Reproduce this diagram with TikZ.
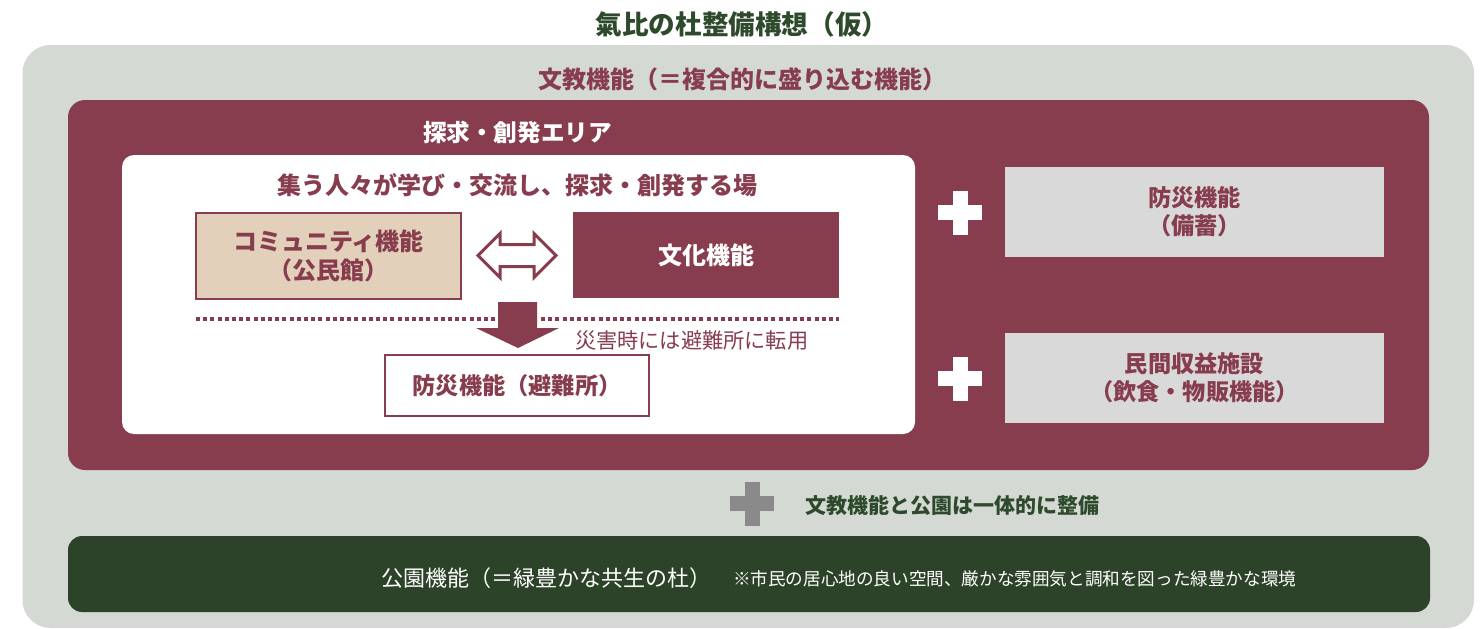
\documentclass[tikz,border=0pt]{standalone}
\usepackage{fontspec}
\setmainfont{Noto Sans CJK JP}
\usetikzlibrary{calc}
\definecolor{maroon}{HTML}{873D4E}
\definecolor{bggray}{HTML}{D4D9D4}
\definecolor{beige}{HTML}{E2D0BB}
\definecolor{lgray}{HTML}{D9D9D9}
\definecolor{dgreen}{HTML}{2C4329}
\definecolor{tgreen}{HTML}{2E4A2C}
\definecolor{plusgray}{HTML}{8A8A8A}
\newcommand\myfs[2]{\fontsize{#1}{#2}\selectfont}
\begin{document}
\begin{tikzpicture}[x=0.5pt,y=-0.5pt,
  every node/.style={inner sep=0pt,outer sep=0pt},
  fbox/.style={minimum height=43pt,align=center,font=\bfseries\myfs{12}{14.5}},
  rbox/.style={fill=lgray,minimum width=189.5pt,minimum height=45pt,align=center,text=maroon,font=\bfseries\myfs{11.6}{14}},
  sepline/.style={maroon,line width=1.8pt,dash pattern=on 2pt off 1.6pt}
]
\useasboundingbox (0,0) rectangle (1484,628);
\fill[white] (0,0) rectangle (1484,628);

% title
\node[text=tgreen,font=\bfseries\myfs{13.3}{15}] (title) at (742,24) {氣比の杜整備構想（仮）};

% outer gray panel
\node[fill=bggray,rounded corners=14pt,minimum width=725.75pt,minimum height=291.5pt] (outer) at (748.25,336.5) {};
\node[text=maroon,font=\bfseries\myfs{12}{13}] (bunkyolbl) at (742,79) {文教機能（＝複合的に盛り込む機能）};

% maroon panel
\node[fill=maroon,rounded corners=8.5pt,minimum width=680.5pt,minimum height=185pt] (bunkyo) at (748.5,285) {};
\node[text=white,font=\bfseries\myfs{11.8}{13}] (arealbl) at (517.5,132) {探求・創発エリア};

% white area
\node[fill=white,rounded corners=6pt,minimum width=396.5pt,minimum height=139.5pt] (area) at (518.5,294.5) {};
\node[text=maroon,font=\bfseries\myfs{12}{14}] (arealbl2) at (517.5,185) {集う人々が学び・交流し、探求・創発する場};

\node[fbox,fill=beige,draw=maroon,line width=0.6pt,minimum width=132.5pt,text=maroon] (comm) at (328.5,256) {コミュニティ機能\\（公民館）};
\node[fbox,fill=maroon,minimum width=133pt,text=white] (bunka) at (706,255) {文化機能};

% double arrow
\coordinate (dac) at ($(comm.east)!0.5!(bunka.west)$);
\draw[maroon,line width=1.5pt,fill=white,line join=miter]
  ($(dac)+(-39,0)$) -- ++(22,-22) -- ++(0,11) -- ++(34,0) -- ++(0,-11) -- ++(22,22)
  -- ++(-22,22) -- ++(0,-11) -- ++(-34,0) -- ++(0,11) -- cycle;

% dotted separator
\coordinate (dl) at (comm.south west |- 0,319);
\coordinate (dr) at (bunka.south east |- 0,319);
\draw[sepline] (dl) -- (495,319);
\draw[sepline] (541,319) -- (dr);

% evacuation box
\node[fill=white,draw=maroon,line width=0.75pt,minimum width=132pt,minimum height=30.5pt,text=maroon,font=\bfseries\myfs{11.6}{13}] (hinan) at (517,385.5) {防災機能（避難所）};

% down arrow
\fill[maroon] ($(hinan.north)+(-19,-53)$) -- ++(39,0) -- ++(0,26) -- ++(22,0)
  -- ($(hinan.north)+(1,-7)$) -- ++(-42,-20) -- ++(22,0) -- cycle;
\node[text=maroon,font=\myfs{10.6}{12},anchor=west] (saigai) at (575,340) {災害時には避難所に転用};

% right boxes
\node[rbox] (bousai) at (1194.5,212) {防災機能\\（備蓄）};
\node[rbox] (minkan) at (1194.5,378) {民間収益施設\\（飲食・物販機能）};

% plus signs
\coordinate (p1) at (960,212.5);
\coordinate (p2) at (960,378.5);
\coordinate (p3) at (752,503.5);
\foreach \p/\c in {p1/white,p2/white,p3/plusgray}{
  \fill[\c] ($(\p)+(-22,-7.5)$) rectangle ++(44,15);
  \fill[\c] ($(\p)+(-7.5,-22)$) rectangle ++(15,44);
}
\node[text=tgreen,font=\bfseries\myfs{10.5}{12},anchor=west] (ittai) at (805,505) {文教機能と公園は一体的に整備};

% park
\node[fill=dgreen,rounded corners=7pt,minimum width=681pt,minimum height=38pt] (park) at (749,574) {};
\node[text=white,font=\myfs{11}{12},anchor=west] (parklbl) at (381,578) {公園機能（＝緑豊かな共生の杜）};
\node[text=white,font=\myfs{8.8}{11},anchor=west] (parknote) at (733,579) {※市民の居心地の良い空間、厳かな雰囲気と調和を図った緑豊かな環境};
\end{tikzpicture}
\end{document}
